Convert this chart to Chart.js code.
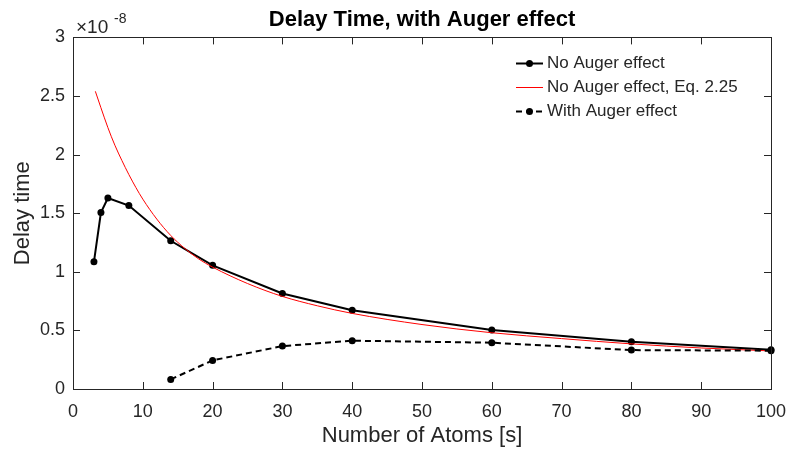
<!DOCTYPE html>
<html>
<head>
<meta charset="utf-8">
<script src="https://cdn.jsdelivr.net/npm/chart.js@4"></script>
<style>
  html, body { margin: 0; padding: 0; background: #fff; }
  #wrap { width: 790px; height: 450px; }
</style>
</head>
<body>
<div id="wrap"><canvas id="delay"></canvas></div>
<script>
// values are in units of 1e-8 (axis exponent shown separately)
const atoms = [3, 4, 5, 8, 14, 20, 30, 40, 60, 80, 100];
const noAuger = [1.085, 1.505, 1.63, 1.565, 1.265, 1.055, 0.815, 0.672, 0.503, 0.403, 0.335];

const eqAtoms = [3.2, 4, 5, 6, 7, 8, 9, 10, 12, 14, 16, 18, 20, 25, 30, 35, 40, 50, 60, 70, 80, 90, 100];
const eqDelay = [2.54, 2.40, 2.23, 2.08, 1.95, 1.83, 1.72, 1.62, 1.45, 1.31, 1.20, 1.11, 1.04, 0.90, 0.79, 0.71, 0.645, 0.55, 0.48, 0.43, 0.385, 0.35, 0.325];

const augerAtoms = [14, 20, 30, 40, 60, 80, 100];
const withAuger = [0.082, 0.244, 0.366, 0.412, 0.395, 0.332, 0.327];

const xTicks = [0, 10, 20, 30, 40, 50, 60, 70, 80, 90, 100];
const yTicks = [0, 0.5, 1, 1.5, 2, 2.5, 3];

const ink = '#262626';
const fontName = "'Liberation Sans', Arial, sans-serif";

function pts(xs, ys) {
    return xs.map((v, i) => ({x: v, y: ys[i]}));
}

// MATLAB-like box, inward ticks on all sides, exponent and legend
const matlabAxes = {
    id: 'matlabAxes',
    afterDraw(chart) {
        const {ctx, chartArea: a, scales: {x, y}} = chart;
        ctx.save();
        ctx.strokeStyle = ink;
        ctx.lineWidth = 1;
        ctx.setLineDash([]);
        ctx.strokeRect(Math.round(a.left) + 0.5, Math.round(a.top) + 0.5,
            Math.round(a.right - a.left), Math.round(a.bottom - a.top));
        const tl = 7;
        ctx.beginPath();
        xTicks.forEach(v => {
            const px = Math.round(x.getPixelForValue(v)) + 0.5;
            ctx.moveTo(px, a.bottom); ctx.lineTo(px, a.bottom - tl);
            ctx.moveTo(px, a.top); ctx.lineTo(px, a.top + tl);
        });
        yTicks.forEach(v => {
            const py = Math.round(y.getPixelForValue(v)) + 0.5;
            ctx.moveTo(a.left, py); ctx.lineTo(a.left + tl, py);
            ctx.moveTo(a.right, py); ctx.lineTo(a.right - tl, py);
        });
        ctx.stroke();

        // exponent
        ctx.fillStyle = ink;
        ctx.textBaseline = 'alphabetic';
        ctx.textAlign = 'left';
        ctx.font = '19px ' + fontName;
        ctx.fillText('\u00d710', a.left + 3, a.top - 4);
        ctx.font = '14px ' + fontName;
        ctx.fillText('-8', a.left + 41, a.top - 14);

        // legend
        const lx = a.right - 255;
        ctx.font = '17px ' + fontName;
        ctx.textBaseline = 'middle';
        chart.data.datasets.forEach((ds, i) => {
            const ly = Math.round(a.top + 26 + 24 * i) + 0.5;
            ctx.strokeStyle = ds.borderColor;
            ctx.lineWidth = ds.borderWidth;
            ctx.setLineDash(ds.borderDash || []);
            ctx.beginPath();
            ctx.moveTo(lx, ly); ctx.lineTo(lx + 27, ly);
            ctx.stroke();
            if (ds.pointRadius > 0) {
                ctx.fillStyle = ds.pointBackgroundColor;
                ctx.beginPath();
                ctx.arc(lx + 13.5, ly, ds.pointRadius, 0, Math.PI * 2);
                ctx.fill();
            }
            ctx.fillStyle = ink;
            ctx.fillText(ds.label, lx + 31, ly);
        });
        ctx.restore();
    }
};

new Chart(document.getElementById('delay'), {
    type: 'line',
    data: {
        datasets: [
            {
                label: 'No Auger effect',
                data: pts(atoms, noAuger),
                borderColor: '#000000',
                borderWidth: 2,
                pointRadius: 3.5,
                pointBackgroundColor: '#000000',
                pointBorderWidth: 0,
                clip: false,
                order: 3
            },
            {
                label: 'No Auger effect, Eq. 2.25',
                data: pts(eqAtoms, eqDelay),
                borderColor: '#ff0000',
                borderWidth: 1,
                pointRadius: 0,
                cubicInterpolationMode: 'monotone',
                clip: false,
                order: 2
            },
            {
                label: 'With Auger effect',
                data: pts(augerAtoms, withAuger),
                borderColor: '#000000',
                borderWidth: 2,
                borderDash: [6, 4],
                pointRadius: 3.5,
                pointBackgroundColor: '#000000',
                pointBorderWidth: 0,
                clip: false,
                order: 1
            }
        ]
    },
    options: {
        responsive: true,
        maintainAspectRatio: false,
        animation: false,
        layout: {
            padding: {left: 0, right: 19, top: 0, bottom: 0}
        },
        plugins: {
            legend: {display: false},
            tooltip: {enabled: false},
            title: {
                display: true,
                fullSize: false,
                text: 'Delay Time, with Auger effect',
                color: '#000000',
                font: {family: fontName, size: 22, weight: 'bold'},
                padding: {top: 7, bottom: 4}
            }
        },
        scales: {
            x: {
                type: 'linear',
                min: 0,
                max: 100,
                afterFit(scale) {
                    scale.height = 61;
                    scale.paddingLeft = 0;
                    scale.paddingRight = 0;
                },
                afterBuildTicks(scale) {
                    scale.ticks = xTicks.map(v => ({value: v}));
                },
                ticks: {
                    color: ink,
                    padding: 12,
                    maxRotation: 0,
                    font: {family: fontName, size: 18},
                    callback: v => String(v)
                },
                grid: {display: false, drawTicks: false},
                border: {display: false},
                title: {
                    display: true,
                    text: 'Number of Atoms [s]',
                    color: ink,
                    font: {family: fontName, size: 22},
                    padding: {top: 0, bottom: 1}
                }
            },
            y: {
                type: 'linear',
                min: 0,
                max: 3,
                afterFit(scale) {
                    scale.width = 73;
                    scale.paddingTop = 0;
                    scale.paddingBottom = 0;
                },
                afterBuildTicks(scale) {
                    scale.ticks = yTicks.map(v => ({value: v}));
                },
                ticks: {
                    color: ink,
                    padding: 8,
                    font: {family: fontName, size: 18},
                    callback: v => String(v)
                },
                grid: {display: false, drawTicks: false},
                border: {display: false},
                title: {
                    display: true,
                    text: 'Delay time',
                    color: ink,
                    font: {family: fontName, size: 22},
                    padding: {top: 10, bottom: 0}
                }
            }
        }
    },
    plugins: [matlabAxes]
});
</script>
</body>
</html>
